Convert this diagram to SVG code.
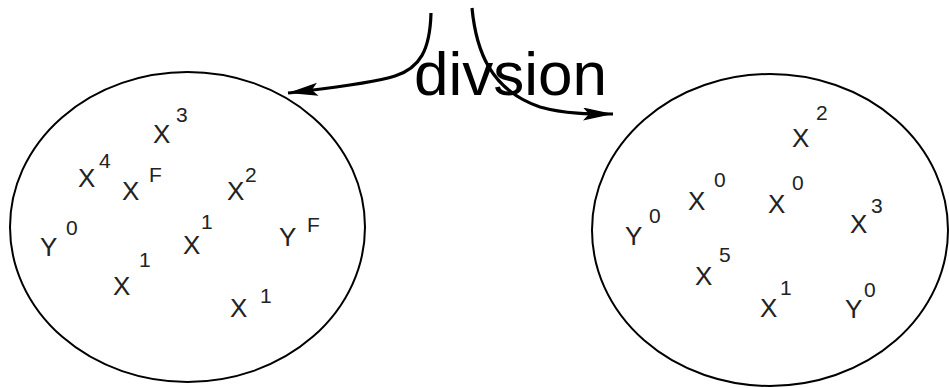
<svg xmlns="http://www.w3.org/2000/svg" width="949" height="388" viewBox="0 0 949 388">
<style>
.set{fill:none;stroke:#000;stroke-width:2}
.edge{fill:none;stroke:#000;stroke-width:3.2}
.v{font-family:"Liberation Sans",Arial,sans-serif;font-size:26px;fill:#222}
.s{font-family:"Liberation Sans",Arial,sans-serif;font-size:21px;fill:#222}
.lbl{font-family:"Liberation Sans",Arial,sans-serif;font-size:62px;fill:#000}
</style>
<defs>
<marker id="ah" markerUnits="userSpaceOnUse" markerWidth="32" markerHeight="14" refX="30" refY="6.5" orient="auto">
<path d="M0,0 L30,6.5 L0,13 L6,6.5 Z" fill="#000"/>
</marker>
</defs>
<rect width="949" height="388" fill="#fff"/>
<g id="connectors">
<path class="edge" d="M431,13 C430,50 420,68 395,76 C370,84 320,89 288,93" marker-end="url(#ah)"/>
<path class="edge" d="M472,8 C476,50 490,90 540,107 C565,114 590,114 613,114" marker-end="url(#ah)"/>
</g>
<g id="label-division">
<text class="lbl" x="414" y="95">divsion</text>
</g>
<g id="set-left">
<ellipse class="set" cx="187.5" cy="227" rx="177.5" ry="155"/>
<text class="v" x="153" y="143">X</text><text class="s" x="176" y="122">3</text>
<text class="v" x="78" y="187">X</text><text class="s" x="99" y="168">4</text>
<text class="v" x="122" y="200">X</text><text class="s" x="149" y="182">F</text>
<text class="v" x="227" y="200">X</text><text class="s" x="245" y="182">2</text>
<text class="v" x="40" y="256">Y</text><text class="s" x="66" y="235">0</text>
<text class="v" x="183" y="254">X</text><text class="s" x="201" y="229">1</text>
<text class="v" x="279" y="246">Y</text><text class="s" x="307" y="232">F</text>
<text class="v" x="113" y="295">X</text><text class="s" x="139" y="267">1</text>
<text class="v" x="230" y="317">X</text><text class="s" x="260" y="303">1</text>
</g>
<g id="set-right">
<ellipse class="set" cx="770" cy="230" rx="178" ry="156"/>
<text class="v" x="792" y="147">X</text><text class="s" x="816" y="120">2</text>
<text class="v" x="688" y="210">X</text><text class="s" x="714" y="187">0</text>
<text class="v" x="768" y="213">X</text><text class="s" x="792" y="190">0</text>
<text class="v" x="850" y="233">X</text><text class="s" x="871" y="213">3</text>
<text class="v" x="625" y="245">Y</text><text class="s" x="649" y="223">0</text>
<text class="v" x="695" y="285">X</text><text class="s" x="719" y="262">5</text>
<text class="v" x="760" y="317">X</text><text class="s" x="780" y="295">1</text>
<text class="v" x="845" y="318">Y</text><text class="s" x="864" y="297">0</text>
</g>
</svg>
